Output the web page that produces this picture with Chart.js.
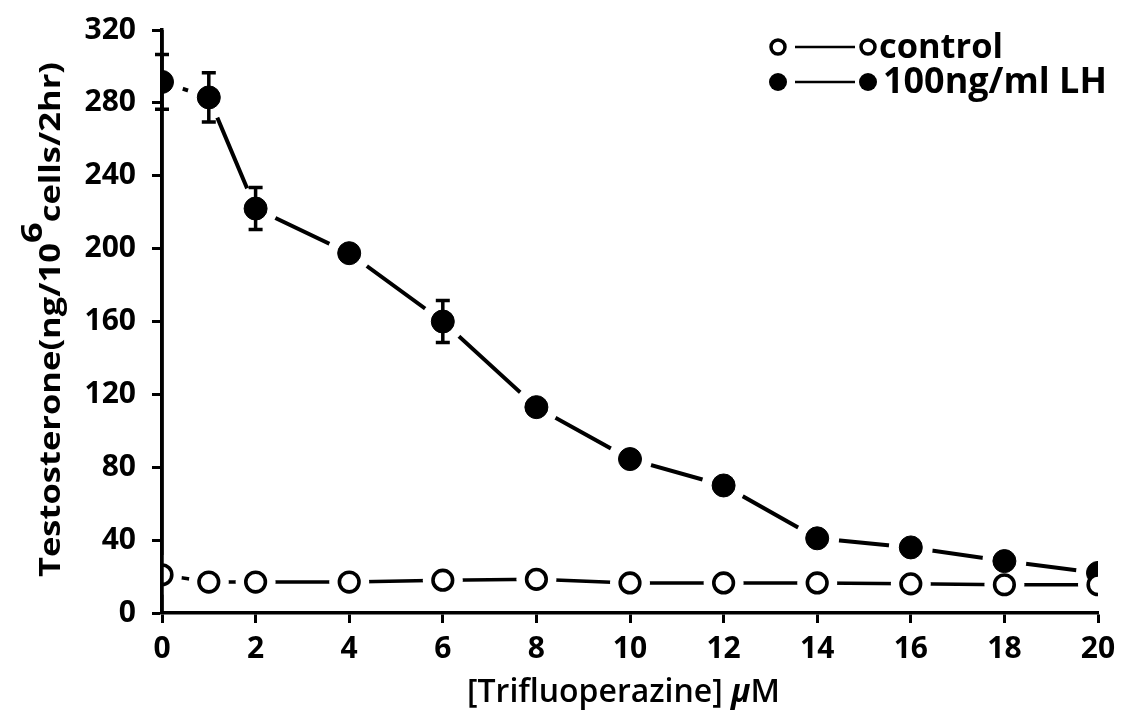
<!DOCTYPE html>
<html>
<head>
<meta charset="utf-8">
<script src="https://cdn.jsdelivr.net/npm/chart.js@4.4.1/dist/chart.umd.min.js"></script>
<style>
  html, body { margin: 0; padding: 0; background: #fff; }
  #wrap { position: relative; width: 1123px; height: 721px; }
</style>
</head>
<body>
<div id="wrap"><canvas id="c"></canvas></div>
<script>
// ---- data ----
const xValues = [0, 1, 2, 4, 6, 8, 10, 12, 14, 16, 18, 20];
const lhValues = [291.5, 283, 222, 197.5, 160, 113, 84.5, 70, 41, 36, 28.5, 22];
const lhErrors = [15, 13.5, 11.5, null, 11.5, null, null, null, null, null, null, null];
const controlValues = [21, 17, 17, 17, 18, 18.5, 16.5, 16.5, 16.5, 16, 15.5, 15.5];
const seriesNames = ['control', '100ng/ml LH'];
const xTicks = [0, 2, 4, 6, 8, 10, 12, 14, 16, 18, 20];
const yTicks = [0, 40, 80, 120, 160, 200, 240, 280, 320];
const xTitleMain = '[Trifluoperazine] ';
const xTitleUnitGreek = 'μ';
const xTitleUnitRest = 'M';
const yTitleA = 'Testosterone(ng/10';
const yTitleSup = '6';
const yTitleB = 'cells/2hr)';

const pts = arr => xValues.map((x, i) => ({ x: x, y: arr[i] }));
const FONT = '"Open Sans", "Liberation Sans", sans-serif';

// error bars + axis redraw
const errorBarPlugin = {
  id: 'errorBars',
  afterDatasetsDraw(chart) {
    const ctx = chart.ctx, xs = chart.scales.x, ys = chart.scales.y;
    ctx.save();
    ctx.strokeStyle = '#000';
    ctx.lineWidth = 3.5;
    ctx.beginPath();
    ctx.moveTo(chart.chartArea.left, chart.chartArea.top);
    ctx.lineTo(chart.chartArea.left, chart.chartArea.bottom);
    ctx.stroke();
    lhErrors.forEach((e, i) => {
      if (e == null) return;
      const px = xs.getPixelForValue(xValues[i]);
      const hi = ys.getPixelForValue(lhValues[i] + e);
      const lo = ys.getPixelForValue(lhValues[i] - e);
      ctx.lineWidth = 3.5;
      ctx.beginPath();
      ctx.moveTo(px, hi); ctx.lineTo(px, lo);
      ctx.moveTo(px - 7, hi); ctx.lineTo(px + 7, hi);
      ctx.moveTo(px - 7, lo); ctx.lineTo(px + 7, lo);
      ctx.stroke();
    });
    ctx.restore();
  }
};

function fitFont(ctx, text, weight, target, base) {
  ctx.font = weight + ' ' + base + 'px ' + FONT;
  const w = ctx.measureText(text).width;
  return base * target / w;
}

const titlesPlugin = {
  id: 'titles',
  afterDraw(chart) {
    const ctx = chart.ctx;
    ctx.save();
    ctx.fillStyle = '#000';
    // x title
    let fs = fitFont(ctx, xTitleMain + xTitleUnitGreek + xTitleUnitRest, '600', 314, 30);
    ctx.font = '600 ' + fs + 'px ' + FONT;
    ctx.textBaseline = 'alphabetic';
    const wMain = ctx.measureText(xTitleMain).width;
    let x0 = 467, yb = 702;
    ctx.fillText(xTitleMain, x0, yb);
    ctx.font = 'italic bold ' + fs + 'px ' + FONT;
    ctx.fillText(xTitleUnitGreek, x0 + wMain, yb);
    const wG = ctx.measureText(xTitleUnitGreek).width;
    ctx.font = '600 ' + fs + 'px ' + FONT;
    ctx.fillText(xTitleUnitRest, x0 + wMain + wG, yb);

    // y title (rotated)
    const yfs = 28;
    ctx.font = 'bold ' + yfs + 'px ' + FONT;
    const wa = ctx.measureText(yTitleA).width;
    const wb = ctx.measureText(yTitleB).width;
    ctx.font = 'bold ' + (yfs * 1.05) + 'px ' + FONT;
    const ws = ctx.measureText(yTitleSup).width;
    const total = wa + ws + wb;
    const scale = 515 / total;
    ctx.translate(60, 577);
    ctx.rotate(-Math.PI / 2);
    ctx.scale(scale, 1);
    ctx.font = 'bold ' + yfs + 'px ' + FONT;
    ctx.fillText(yTitleA, 0, 0);
    ctx.font = 'bold ' + (yfs * 1.05) + 'px ' + FONT;
    ctx.fillText(yTitleSup, wa, -18);
    ctx.font = 'bold ' + yfs + 'px ' + FONT;
    ctx.fillText(yTitleB, wa + ws, 0);
    ctx.restore();

    // legend
    ctx.save();
    ctx.strokeStyle = '#000';
    ctx.fillStyle = '#000';
    const rows = [{ y: 47, filled: false, tx: 879, tw: 124 }, { y: 82, filled: true, tx: 883, tw: 224 }];
    rows.forEach((r, i) => {
      ctx.lineWidth = 2.5;
      ctx.beginPath();
      ctx.moveTo(795, r.y); ctx.lineTo(855, r.y);
      ctx.stroke();
      [778, 868].forEach(cx => {
        ctx.beginPath();
        if (r.filled) {
          ctx.arc(cx, r.y, 9, 0, Math.PI * 2);
          ctx.fill();
        } else {
          ctx.lineWidth = 3.5;
          ctx.arc(cx, r.y, 7, 0, Math.PI * 2);
          ctx.fillStyle = '#fff'; ctx.fill(); ctx.fillStyle = '#000';
          ctx.stroke();
        }
      });
      const f = fitFont(ctx, seriesNames[i], 'bold', r.tw, 28);
      ctx.font = 'bold ' + f + 'px ' + FONT;
      ctx.textBaseline = 'middle';
      ctx.fillText(seriesNames[i], r.tx, r.y + 1);
    });
    ctx.restore();
  }
};

const haloRadius = 22;
new Chart(document.getElementById('c'), {
  type: 'scatter',
  data: {
    datasets: [
      { label: 'lhLine', data: pts(lhValues), showLine: true, borderColor: '#000', borderWidth: 4, pointRadius: 0, order: 6 },
      { label: 'ctlLine', data: pts(controlValues), showLine: true, borderColor: '#000', borderWidth: 3.5, pointRadius: 0, order: 6 },
      { label: 'lhHalo', data: pts(lhValues), showLine: false, pointRadius: haloRadius, pointBackgroundColor: '#fff', pointBorderWidth: 0, pointBorderColor: '#fff', order: 4 },
      { label: 'ctlHalo', data: pts(controlValues), showLine: false, pointRadius: 20, pointBackgroundColor: '#fff', pointBorderWidth: 0, pointBorderColor: '#fff', order: 4 },
      { label: seriesNames[1], data: pts(lhValues), showLine: false, pointRadius: 11.5, pointBackgroundColor: '#000', pointBorderColor: '#000', pointBorderWidth: 1, order: 2 },
      { label: seriesNames[0], data: pts(controlValues), showLine: false, pointRadius: 9.8, pointBackgroundColor: '#fff', pointBorderColor: '#000', pointBorderWidth: 3.6, order: 1 }
    ]
  },
  options: {
    responsive: true,
    maintainAspectRatio: false,
    animation: false,
    events: [],
    layout: { padding: { top: 30, right: 25, left: 0, bottom: 0 } },
    plugins: { legend: { display: false }, tooltip: { enabled: false }, title: { display: false } },
    scales: {
      x: {
        type: 'linear', min: 0, max: 20,
        afterBuildTicks: s => { s.ticks = xTicks.map(v => ({ value: v })); },
        afterFit: s => { s.height = 108; s.paddingLeft = 0; s.paddingRight = 0; },
        grid: { display: true, drawOnChartArea: false, drawTicks: true, tickLength: 10, tickWidth: 3, tickColor: '#000' },
        border: { display: true, width: 3.5, color: '#000' },
        ticks: { color: '#000', font: { family: FONT, size: 30, weight: 'bold' }, padding: 8, maxRotation: 0, autoSkip: false }
      },
      y: {
        type: 'linear', min: 0, max: 320,
        afterBuildTicks: s => { s.ticks = yTicks.map(v => ({ value: v })); },
        afterFit: s => { s.width = 162; s.paddingTop = 0; s.paddingBottom = 0; },
        grid: { display: true, drawOnChartArea: false, drawTicks: true, tickLength: 10, tickWidth: 3, tickColor: '#000' },
        border: { display: true, width: 3.5, color: '#000' },
        ticks: { color: '#000', font: { family: FONT, size: 30, weight: 'bold' }, padding: 16, autoSkip: false }
      }
    }
  },
  plugins: [errorBarPlugin, titlesPlugin]
});
</script>
</body>
</html>
